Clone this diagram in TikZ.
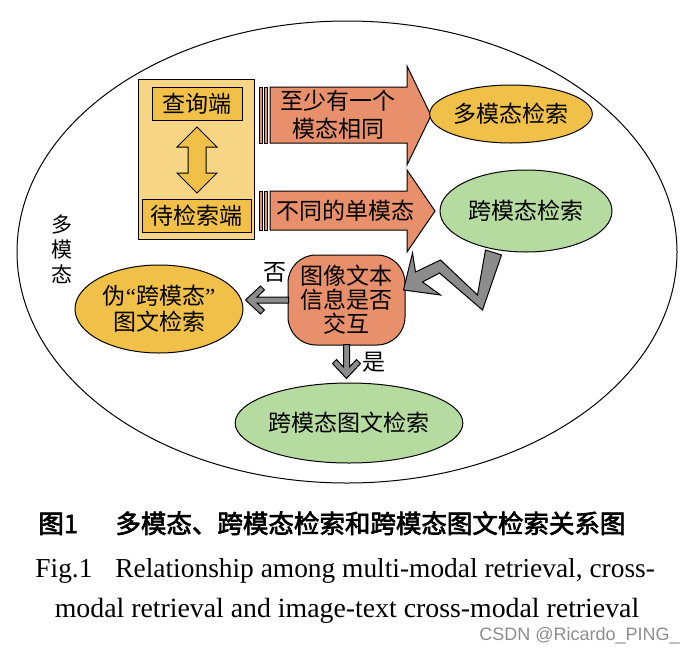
\documentclass[tikz,border=0pt]{standalone}
\usepackage{fontspec}
\setmainfont{Liberation Serif}
\newfontfamily\cjk{Noto Sans CJK SC}
\newfontfamily\cjkbf[FakeBold=2.5]{Noto Sans CJK SC}
\newfontfamily\wmfont{Liberation Sans}
\usetikzlibrary{shapes.geometric}
\definecolor{paleyel}{HTML}{F6D684}
\definecolor{yel}{HTML}{F0C048}
\definecolor{salmon}{HTML}{E8906C}
\definecolor{grn}{HTML}{B6DBA0}
\definecolor{arrgray}{HTML}{8C8C8C}

\begin{document}
\begin{tikzpicture}[x=0.5pt,y=-0.5pt]
    \tikzstyle{lbl}=[font=\cjk\fontsize{11.5}{13}\selectfont, inner sep=0pt, align=center]
    \tikzstyle{box}=[rectangle, draw, line width=0.5pt, inner sep=0pt]
    \tikzstyle{oval}=[ellipse, draw, line width=0.5pt, inner sep=0pt, lbl]
    \tikzstyle{garrow}=[draw, line width=0.5pt, fill=arrgray]
    \tikzstyle{sarrow}=[draw, line width=0.5pt, fill=salmon]
    \useasboundingbox (0,0) rectangle (694,653);
    % multi-modal set
    \draw[line width=0.5pt] (347,252) ellipse [x radius=165pt, y radius=115.5pt];
    \node[lbl, font=\cjk\fontsize{10.5}{12.5}\selectfont] (mm) at (62,249) {多\\模\\态};
    % query / candidate side
    \node[box, fill=paleyel, minimum width=58pt, minimum height=80pt] (side) at (196,159) {};
    \node[box, fill=yel, minimum width=45pt, minimum height=16.5pt, lbl] (qry) at (197,103.5) {查询端};
    \node[box, fill=yel, minimum width=54.5pt, minimum height=16.5pt, lbl] (cand) at (196.5,215.5) {待检索端};
    \begin{scope}[shift={(197,160)}]
      \draw[fill=yel, line width=0.5pt] (0,-33) -- (20,-13) -- (9,-13) -- (9,13) -- (20,13) -- (0,33)
        -- (-20,13) -- (-9,13) -- (-9,-13) -- (-20,-13) -- cycle;
    \end{scope}
    % striped arrows
    \draw[sarrow] (259.5,87) rectangle (262.5,143);
    \draw[sarrow] (264,87) rectangle (267.5,143);
    \draw[sarrow] (270,87) -- (407,87) -- (407,66) -- (431,115.5) -- (407,165) -- (407,143) -- (270,143) -- cycle;
    \node[lbl, font=\cjk\fontsize{11.5}{14}\selectfont] (same) at (338,115) {至少有一个\\模态相同};
    \draw[sarrow] (259.5,191) rectangle (262.5,230);
    \draw[sarrow] (264,191) rectangle (267.5,230);
    \draw[sarrow] (270,191) -- (407,191) -- (407,170) -- (435,211) -- (407,252) -- (407,230) -- (270,230) -- cycle;
    \node[lbl] (diff) at (345,211) {不同的单模态};
    % results
    \node[oval, fill=yel, minimum width=73pt, minimum height=29pt] (multi) at (511,114) {多模态检索};
    \node[oval, fill=grn, minimum width=86pt, minimum height=41pt] (cross) at (526,211) {跨模态检索};
    \node[box, rounded corners=14pt, fill=salmon, minimum width=58.5pt, minimum height=45pt, lbl,
      font=\cjk\fontsize{11.5}{12}\selectfont] (inter) at (346.5,300) {图像文本\\信息是否\\交互};
    \node[oval, fill=yel, minimum width=84pt, minimum height=44pt, font=\cjk\fontsize{11.5}{13}\selectfont] (fake) at (159,309) {伪{\rmfamily “}跨模态{\rmfamily ”}\\图文检索};
    \node[oval, fill=grn, minimum width=111pt, minimum height=40pt] (itcm) at (349,423) {跨模态图文检索};
    % gray connectors
    \begin{scope}[shift={(inter.east)}]
      \draw[garrow] (80,-50) -- (96,-45) -- (77,10) -- (34,-27) -- (17,-18) -- (35,-5) -- (-2,-10)
        -- (7,-47) -- (10,-28) -- (35,-40) -- (72,-5) -- cycle;
    \end{scope}
    \begin{scope}[shift={(inter.west)}]
      \draw[garrow] (-42,0) -- (-27,-14) -- (-23,-10) -- (-30.5,-3) -- (1,-3) -- (1,3) -- (-30.5,3)
        -- (-23,10) -- (-27,14) -- cycle;
    \end{scope}
    \begin{scope}[shift={(inter.south)}]
      \draw[garrow] (0,33) -- (-14,18) -- (-10,14) -- (-3,21.5) -- (-3,-1) -- (3,-1) -- (3,21.5)
        -- (10,14) -- (14,18) -- cycle;
    \end{scope}
    \node[lbl] (no) at (275,272) {否};
    \node[lbl] (yes) at (374,362) {是};
    % caption
    \node[anchor=base west, inner sep=0pt, font=\cjkbf\fontsize{12.75}{14}\selectfont] (capnum) at (38,533) {图1};
    \node[anchor=base west, inner sep=0pt, font=\cjkbf\fontsize{12.75}{14}\selectfont] (capzh) at (115,533) {多模态、跨模态检索和跨模态图文检索关系图};
    \node[anchor=base west, inner sep=0pt, font=\fontsize{13.7}{16}\selectfont] (fignum) at (35,577) {Fig.1};
    \node[anchor=base west, inner sep=0pt, font=\fontsize{13.7}{16}\selectfont] (capen) at (115,577) {Relationship among multi-modal retrieval, cross-};
    \node[anchor=base, inner sep=0pt, font=\fontsize{13.9}{16}\selectfont] (capen2) at (347,617) {modal retrieval and image-text cross-modal retrieval};
    \node[anchor=base east, inner sep=0pt, text=black!45, font=\wmfont\fontsize{9}{10}\selectfont] (wm) at (680,640) {CSDN @Ricardo\_PING\_};
\end{tikzpicture}
\end{document}
